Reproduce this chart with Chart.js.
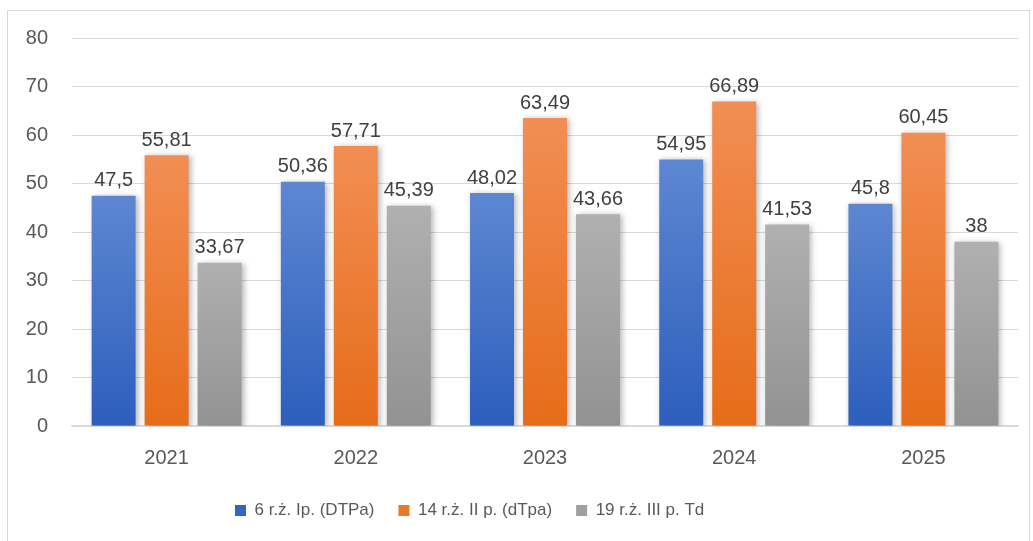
<!DOCTYPE html>
<html>
<head>
<meta charset="utf-8">
<script src="https://cdn.jsdelivr.net/npm/chart.js@4"></script>
<style>
html,body{margin:0;padding:0;background:#fff;}
#wrap{position:relative;width:1033px;height:541px;}
</style>
</head>
<body>
<div id="wrap"><canvas id="c" width="1033" height="541"></canvas></div>
<script>
const categories = ['2021', '2022', '2023', '2024', '2025'];
const seriesNames = ['6 r.ż. Ip. (DTPa)', '14 r.ż. II p. (dTpa)', '19 r.ż. III p. Td'];
const series1 = [47.5, 50.36, 48.02, 54.95, 45.8];
const series2 = [55.81, 57.71, 63.49, 66.89, 60.45];
const series3 = [33.67, 45.39, 43.66, 41.53, 38];
const yTicks = [0, 10, 20, 30, 40, 50, 60, 70, 80];

const gradStops = [
  ['#5E87D2', '#2C5EBC'],
  ['#F28E54', '#E66C19'],
  ['#B0B0B0', '#929292']
];
const legendColors = ['#3465C3', '#EC7729', '#A0A0A0'];

function barGradient(idx) {
  return function(ctx) {
    const chart = ctx.chart;
    const area = chart.chartArea;
    if (!area || ctx.raw === undefined) return gradStops[idx][1];
    const y = chart.scales.y;
    const top = y.getPixelForValue(ctx.raw);
    const base = y.getPixelForValue(0);
    const g = chart.ctx.createLinearGradient(0, top, 0, base);
    g.addColorStop(0, gradStops[idx][0]);
    g.addColorStop(1, gradStops[idx][1]);
    return g;
  };
}

const fontFam = '"Liberation Sans", Arial, sans-serif';

const labelPlugin = {
  id: 'valueLabels',
  afterDatasetsDraw(chart) {
    const ctx = chart.ctx;
    ctx.save();
    ctx.font = '20px ' + fontFam;
    ctx.fillStyle = '#404040';
    ctx.textAlign = 'center';
    ctx.textBaseline = 'bottom';
    chart.data.datasets.forEach((ds, i) => {
      const meta = chart.getDatasetMeta(i);
      meta.data.forEach((el, j) => {
        const txt = String(ds.data[j]).replace('.', ',');
        ctx.fillText(txt, el.x, el.y - 5);
      });
    });
    ctx.restore();
  }
};

const borderPlugin = {
  id: 'outerBorder',
  beforeDraw(chart) {
    const ctx = chart.ctx;
    ctx.save();
    ctx.fillStyle = '#fff';
    ctx.fillRect(0, 0, chart.width, chart.height);
    ctx.strokeStyle = '#D9D9D9';
    ctx.lineWidth = 1;
    ctx.strokeRect(7.5, 10.5, 1022, 540);
    ctx.restore();
  }
};

const shadowPlugin = {
  id: 'barShadow',
  beforeDatasetsDraw(chart) {
    chart.ctx.save();
    chart.ctx.shadowColor = 'rgba(0,0,0,0.3)';
    chart.ctx.shadowBlur = 6;
    chart.ctx.shadowOffsetX = 2;
    chart.ctx.shadowOffsetY = 1;
  },
  afterDatasetsDraw(chart) {
    chart.ctx.restore();
  }
};

const legendShift = {
  id: 'legendShift',
  afterLayout(chart) {
    const lg = chart.legend;
    if (!lg || !lg.lineWidths) return;
    const p = lg.options.labels.padding;
    const start = (lg.left + p + lg.right - lg.lineWidths[0]) / 2;
    const shift = 235 - start;
    lg.left += shift;
    lg.right += shift;
  }
};

new Chart(document.getElementById('c'), {
  type: 'bar',
  data: {
    labels: categories,
    datasets: [
      { label: seriesNames[0], data: series1, backgroundColor: barGradient(0) },
      { label: seriesNames[1], data: series2, backgroundColor: barGradient(1) },
      { label: seriesNames[2], data: series3, backgroundColor: barGradient(2) }
    ]
  },
  options: {
    responsive: false,
    animation: false,
    devicePixelRatio: 1,
    layout: { padding: { left: 0, right: 15, top: 38, bottom: 12 } },
    datasets: { bar: { categoryPercentage: 0.84, barPercentage: 0.83 } },
    scales: {
      x: {
        grid: { display: false, drawTicks: false },
        border: { color: '#D9D9D9', width: 1.5 },
        ticks: { color: '#595959', font: { family: fontFam, size: 20 }, padding: 20 },
        afterFit(s) { s.height = 52; }
      },
      y: {
        min: 0, max: 80,
        afterBuildTicks(s) { s.ticks = yTicks.map(v => ({ value: v })); },
        afterFit(s) { s.width = 72; },
        grid: { color: '#D9D9D9', lineWidth: 1, drawTicks: false },
        border: { display: false },
        ticks: { color: '#595959', font: { family: fontFam, size: 20 }, padding: 24 }
      }
    },
    plugins: {
      legend: {
        position: 'bottom',
        labels: {
          color: '#595959',
          font: { family: fontFam, size: 17 },
          boxWidth: 11, boxHeight: 11,
          padding: 24,
          generateLabels(chart) {
            return seriesNames.map((n, i) => ({
              text: n, fillStyle: legendColors[i], strokeStyle: legendColors[i], lineWidth: 0,
              fontColor: '#595959', datasetIndex: i, hidden: false
            }));
          }
        }
      },
      tooltip: { enabled: false }
    }
  },
  plugins: [borderPlugin, shadowPlugin, labelPlugin, legendShift]
});
</script>
</body>
</html>
